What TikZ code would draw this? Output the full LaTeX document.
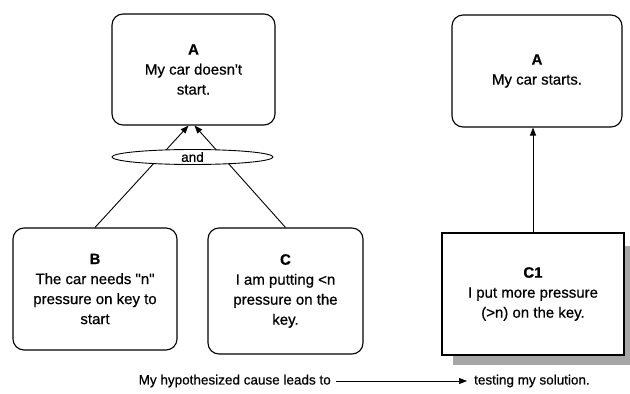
\documentclass[tikz,border=0pt]{standalone}
\usepackage{fontspec}
\setmainfont{Liberation Sans}[FakeBold=0.6]
\usetikzlibrary{shapes.geometric,arrows.meta}
\begin{document}
\begin{tikzpicture}[x=1pt,y=-1pt,
  every node/.style={font=\fontsize{15}{20}\selectfont},
  goal/.style={draw,line width=1.1pt,rounded corners=11pt,align=center,inner sep=0pt},
  plain box/.style={draw,line width=1.1pt,fill=white,align=center,inner sep=0pt},
  link/.style={line width=0.9pt,-{Triangle[length=8pt,width=6pt]}},
  caption/.style={font=\fontsize{13.5}{16}\selectfont,inner sep=0pt}]
\useasboundingbox (0,0) rectangle (630,394);

% left chain: two causes combined by "and"
\node[goal,minimum width=163pt,minimum height=111pt] (A) at (193.5,69.5)
  {\textbf{A}\\My car doesn\textquotesingle t\\start.};
\node[goal,minimum width=164pt,minimum height=122pt] (B) at (95,289)
  {\textbf{B}\\The car needs \textquotedbl n\textquotedbl\\pressure on key to\\start};
\node[goal,minimum width=155pt,minimum height=126pt] (C) at (285.5,291)
  {\textbf{C}\\I am putting <n\\pressure on the\\key.};
\draw[link] (B.north) -- ([xshift=-5pt]A.south);
\draw[link] (C.north) -- ([xshift=1pt]A.south);
\node[draw,ellipse,line width=0.9pt,fill=white,inner sep=0pt,
  minimum width=161pt,minimum height=15pt,font=\fontsize{13.5}{15}\selectfont] (and) at (192.5,157) {and};

% right chain: the solution being tested
\node[goal,minimum width=170pt,minimum height=112pt] (A2) at (537,71)
  {\textbf{A}\\My car starts.};
\fill[gray!70] (453,246) rectangle (632,365);
\node[plain box,minimum width=182pt,minimum height=122pt] (C1) at (533,294)
  {\textbf{C1}\\I put more pressure\\(>n) on the key.};
\draw[link] (C1.north) -- (C1.north |- A2.south);

% legend line
\node[caption,anchor=east] (cause) at (331,381) {My hypothesized cause leads to};
\node[caption,anchor=west] (test) at (474,381) {testing my solution.};
\draw[line width=0.7pt,-{Triangle[length=8pt,width=6pt]}]
  ([xshift=5pt]cause.east) -- ([xshift=-7pt]test.west);
\end{tikzpicture}
\end{document}
